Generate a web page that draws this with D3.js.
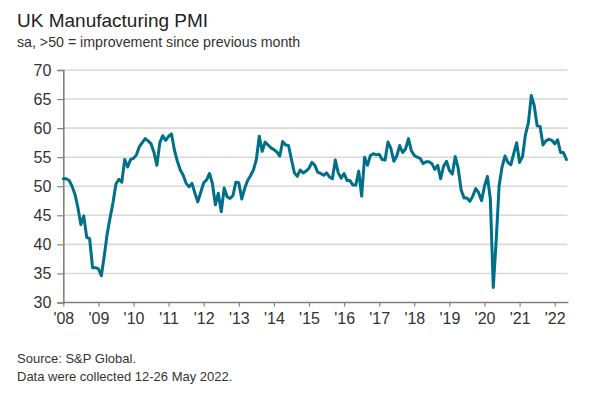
<!DOCTYPE html>
<html>
<head>
<meta charset="utf-8">
<script src="https://cdn.jsdelivr.net/npm/d3@7"></script>
<style>
  html, body { margin: 0; padding: 0; background: #fff; }
  svg { display: block; }
  text { font-family: "Liberation Sans", Arial, sans-serif; }
</style>
</head>
<body>
<svg id="chart" width="600" height="397"></svg>
<script>
// ---- data (UK Manufacturing PMI, monthly, sa) ----
const pmi2008 = [51.3, 51.3, 51.0, 50.0, 48.6, 46.3, 43.4, 44.9, 41.2, 41.0, 36.0, 36.0];
const pmi2009 = [35.8, 34.6, 38.0, 41.8, 44.6, 47.2, 50.4, 51.2, 50.7, 54.6, 53.3, 54.6];
const pmi2010 = [54.8, 55.4, 56.8, 57.5, 58.2, 57.8, 57.3, 55.8, 53.6, 57.5, 58.7, 57.9];
const pmi2011 = [58.6, 59.0, 56.2, 54.3, 52.8, 51.9, 50.5, 49.9, 50.5, 48.8, 47.3, 49.0];
const pmi2012 = [50.6, 51.1, 52.2, 50.4, 46.8, 48.8, 45.6, 49.7, 48.2, 47.9, 48.4, 50.7];
const pmi2013 = [50.6, 47.8, 49.6, 51.0, 51.8, 52.8, 54.6, 58.6, 56.0, 57.6, 57.1, 56.6];
const pmi2014 = [56.3, 55.9, 55.2, 57.7, 57.1, 57.0, 54.6, 52.3, 51.7, 52.8, 52.3, 52.6];
const pmi2015 = [53.1, 54.1, 53.6, 52.4, 52.2, 51.9, 52.3, 51.6, 51.3, 54.5, 52.3, 51.4];
const pmi2016 = [52.2, 51.0, 51.0, 50.2, 50.2, 52.6, 48.3, 55.0, 53.6, 55.3, 55.6, 55.4];
const pmi2017 = [55.5, 54.6, 54.5, 57.6, 56.5, 54.3, 55.2, 57.0, 55.8, 56.4, 58.2, 56.1];
const pmi2018 = [55.3, 55.0, 54.8, 53.9, 54.2, 54.2, 53.9, 52.9, 53.6, 51.3, 53.4, 54.3];
const pmi2019 = [52.7, 52.1, 55.1, 53.1, 49.4, 48.0, 48.0, 47.4, 48.3, 49.6, 48.9, 47.5];
const pmi2020 = [50.0, 51.7, 47.8, 32.6, 40.7, 50.1, 53.3, 55.2, 54.1, 53.7, 55.6, 57.5];
const pmi2021 = [54.1, 55.1, 58.9, 60.9, 65.6, 63.9, 60.4, 60.3, 57.1, 57.8, 58.1, 57.9];
const pmi2022 = [57.3, 58.0, 55.8, 55.8, 54.6];

const yearLabels = ["'08","'09","'10","'11","'12","'13","'14","'15","'16","'17","'18","'19","'20","'21","'22"];
const yTicks = [30, 35, 40, 45, 50, 55, 60, 65, 70];

const title = "UK Manufacturing PMI";
const subtitle = "sa, >50 = improvement since previous month";
const source = "Source: S&P Global.";
const note = "Data were collected 12-26 May 2022.";

// ---- build series ----
const series = [].concat(pmi2008, pmi2009, pmi2010, pmi2011, pmi2012, pmi2013, pmi2014,
  pmi2015, pmi2016, pmi2017, pmi2018, pmi2019, pmi2020, pmi2021, pmi2022)
  .map((v, i) => ({ i, v }));

const svg = d3.select("#chart");

const x = d3.scaleLinear().domain([0, 168]).range([63.3, 554.7]);
const y = d3.scaleLinear().domain([30, 70]).range([302.5, 70]);
const xEnd = x(series.length - 1) + 1;

// gridlines
svg.append("g")
  .selectAll("line")
  .data(yTicks.filter(t => t > 30))
  .join("line")
  .attr("x1", x(0))
  .attr("x2", xEnd)
  .attr("y1", d => y(d))
  .attr("y2", d => y(d))
  .attr("stroke", "#d9d9d9")
  .attr("stroke-width", 1.6);

// y axis
const yAxis = svg.append("g")
  .attr("transform", `translate(${x(0)},0)`)
  .call(d3.axisLeft(y).tickValues(yTicks).tickSize(6).tickPadding(6).tickFormat(d3.format("d")));
yAxis.select(".domain").attr("stroke", "#808080").attr("stroke-width", 1.6);
yAxis.selectAll(".tick line").attr("stroke", "#808080").attr("stroke-width", 1.2);
yAxis.selectAll(".tick text")
  .attr("font-family", "'Liberation Sans', Arial, sans-serif")
  .attr("font-size", 16)
  .attr("fill", "#333");

// x axis
const xAxis = svg.append("g")
  .attr("transform", `translate(0,${y(30)})`)
  .call(d3.axisBottom(x)
    .tickValues(d3.range(0, 169, 12))
    .tickSize(4)
    .tickSizeOuter(0)
    .tickPadding(6)
    .tickFormat((d, k) => yearLabels[k]));
xAxis.select(".domain")
  .attr("d", `M${x(0)},0H${xEnd + 1}`)
  .attr("stroke", "#808080").attr("stroke-width", 1.6);
xAxis.selectAll(".tick line").attr("stroke", "#808080").attr("stroke-width", 1.2);
xAxis.selectAll(".tick text")
  .attr("font-family", "'Liberation Sans', Arial, sans-serif")
  .attr("font-size", 16)
  .attr("fill", "#333");

// line
const line = d3.line().x(d => x(d.i)).y(d => y(d.v)).curve(d3.curveLinear);
svg.append("path")
  .datum(series)
  .attr("fill", "none")
  .attr("stroke", "#00708a")
  .attr("stroke-width", 3)
  .attr("stroke-linejoin", "round")
  .attr("stroke-linecap", "round")
  .attr("d", line);

// texts
svg.append("text").attr("x", 17).attr("y", 26.5)
  .attr("font-size", 19).attr("fill", "#222").text(title);
svg.append("text").attr("x", 17).attr("y", 46.5)
  .attr("font-size", 14.2).attr("fill", "#333").text(subtitle);
svg.append("text").attr("x", 17).attr("y", 362.5)
  .attr("font-size", 13).attr("fill", "#333").text(source);
svg.append("text").attr("x", 17).attr("y", 381)
  .attr("font-size", 13).attr("fill", "#333").text(note);
</script>
</body>
</html>
